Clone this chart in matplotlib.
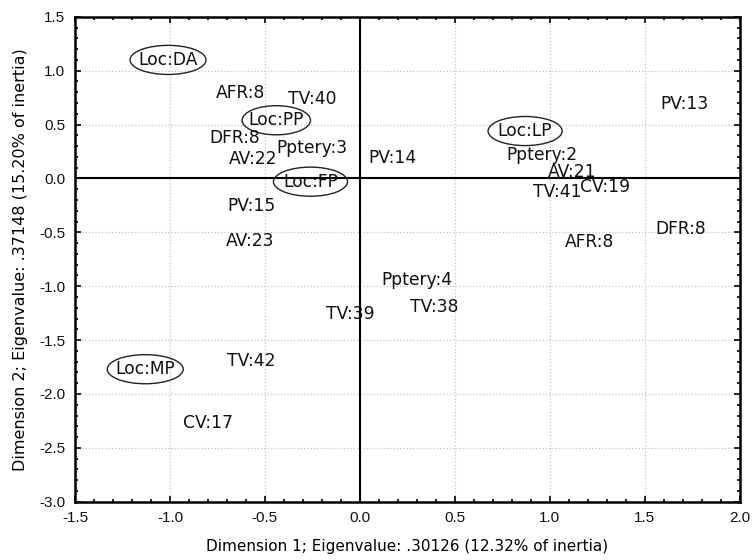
import matplotlib
matplotlib.use("Agg")
import matplotlib.pyplot as plt
from matplotlib.patches import Ellipse
from matplotlib.ticker import MultipleLocator, FormatStrFormatter

# category labels and their coordinates on the two dimensions
labels = ["Loc:DA", "AFR:8", "TV:40", "Loc:PP", "DFR:8", "Pptery:3", "AV:22",
          "Loc:FP", "PV:15", "AV:23", "PV:14", "Loc:LP", "Pptery:2", "AV:21",
          "TV:41", "CV:19", "PV:13", "DFR:8", "AFR:8", "Pptery:4", "TV:38",
          "TV:39", "Loc:MP", "TV:42", "CV:17"]
dim1 = [-1.01, -0.63, -0.25, -0.44, -0.66, -0.25, -0.56,
        -0.26, -0.57, -0.58, 0.17, 0.87, 0.96, 1.12,
        1.04, 1.29, 1.71, 1.69, 1.21, 0.30, 0.39,
        -0.05, -1.13, -0.57, -0.80]
dim2 = [1.10, 0.79, 0.74, 0.54, 0.38, 0.28, 0.18,
        -0.03, -0.26, -0.58, 0.19, 0.44, 0.22, 0.06,
        -0.13, -0.08, 0.69, -0.47, -0.59, -0.94, -1.19,
        -1.26, -1.77, -1.69, -2.27]
ell_w = {"Loc:DA": 0.40, "Loc:PP": 0.36, "Loc:FP": 0.39, "Loc:LP": 0.39, "Loc:MP": 0.40}

fig = plt.figure(figsize=(7.52, 5.60), dpi=100)
ax = fig.add_axes([0.0997, 0.104, 0.884, 0.866])

ax.set_xlim(-1.5, 2.0)
ax.set_ylim(-3.0, 1.5)
ax.xaxis.set_major_locator(MultipleLocator(0.5))
ax.yaxis.set_major_locator(MultipleLocator(0.5))
ax.xaxis.set_minor_locator(MultipleLocator(0.1))
ax.yaxis.set_minor_locator(MultipleLocator(0.1))
ax.xaxis.set_major_formatter(FormatStrFormatter("%.1f"))
ax.yaxis.set_major_formatter(FormatStrFormatter("%.1f"))
ax.tick_params(which="both", direction="in", top=True, right=True, width=1.2,
               labelsize=11)
ax.tick_params(which="major", length=4, pad=7)
ax.tick_params(which="minor", length=2.5)
for lab in ax.get_xticklabels() + ax.get_yticklabels():
    lab.set_family("Liberation Sans")
    lab.set_color("#111111")
for s in ax.spines.values():
    s.set_linewidth(1.8)

ax.grid(True, which="major", linestyle=":", color="#c4c4c4", linewidth=0.9)
ax.axhline(0, color="black", linewidth=1.5, zorder=2)
ax.axvline(0, color="black", linewidth=1.5, zorder=2)

for lab, x, y in zip(labels, dim1, dim2):
    ax.text(x, y, lab, ha="center", va="center", fontsize=12.3,
            family="DejaVu Sans", color="#111111", zorder=4)
    if lab in ell_w:
        ax.add_patch(Ellipse((x, y), ell_w[lab], 0.27, fill=False,
                             edgecolor="#222222", linewidth=1.0, zorder=3))

ax.set_xlabel("Dimension 1; Eigenvalue: .30126 (12.32% of inertia)",
              fontsize=11, labelpad=10)
ax.set_ylabel("Dimension 2; Eigenvalue: .37148 (15.20% of inertia)",
              fontsize=11.5, labelpad=8)

fig.savefig("out.png", dpi=100)
